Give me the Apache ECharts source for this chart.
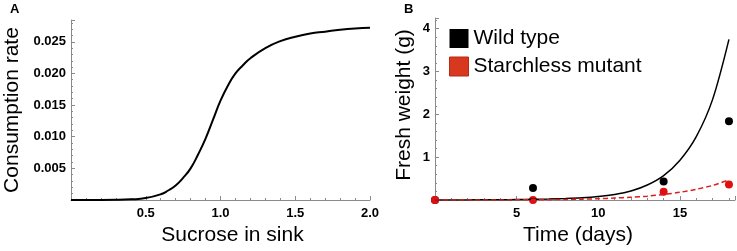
<!DOCTYPE html>
<html>
<head>
<meta charset="utf-8">
<script src="https://cdn.jsdelivr.net/npm/echarts@6.0.0/dist/echarts.min.js"></script>
<style>
  html, body { margin: 0; padding: 0; background: #fff; }
  #chart { width: 737px; height: 251px; }
</style>
</head>
<body>
<div id="chart"></div>
<script>
// panel A: consumption rate vs sucrose in sink
const sucrose = [0, 0.1, 0.2, 0.3, 0.4, 0.5, 0.6, 0.65, 0.7, 0.75, 0.8, 0.85, 0.9, 0.95, 1.0, 1.05, 1.1, 1.15, 1.2, 1.3, 1.4, 1.5, 1.6, 1.7, 1.8, 1.9, 2.0];
const rate = [0, 0, 0, 0.00002, 0.0001, 0.0003, 0.0009, 0.0015, 0.0023, 0.0035, 0.0050, 0.0072, 0.0097, 0.0127, 0.0157, 0.0181, 0.0200, 0.0213, 0.0224, 0.0240, 0.0251, 0.0258, 0.0263, 0.0266, 0.0269, 0.0271, 0.0272];

// panel B: fresh weight vs time
const days = [0, 1, 2, 3, 4, 5, 6, 7, 8, 9, 10, 11, 12, 13, 14, 15, 16, 17, 18];
const wildModel = [0, 0.001, 0.002, 0.004, 0.006, 0.01, 0.015, 0.022, 0.033, 0.05, 0.08, 0.13, 0.21, 0.35, 0.57, 0.93, 1.48, 2.35, 3.75];
const mutantModel = [0, 0.0005, 0.001, 0.0015, 0.002, 0.003, 0.005, 0.008, 0.012, 0.02, 0.03, 0.045, 0.065, 0.09, 0.13, 0.18, 0.25, 0.34, 0.47];
const obsDays = [0, 6, 14, 18];
const wildObs = [0, 0.28, 0.43, 1.84];
const mutantObs = [0, 0, 0.19, 0.36];

const pairs = (xs, ys) => xs.map((x, i) => [x, ys[i]]);

const axisGrey = '#8a8a8a';
const tickLabel = { color: '#000', fontWeight: 'bold', fontSize: 13, fontFamily: 'Liberation Sans' };
const titleFont = { color: '#000', fontSize: 21, fontFamily: 'Liberation Sans' };
const hideZero = v => (v === 0 ? '' : v);

const chart = echarts.init(document.getElementById('chart'));
chart.setOption({
  animation: false,
  textStyle: { fontFamily: 'Liberation Sans' },
  grid: [
    { left: 71, top: 20, width: 299, height: 182 },
    { left: 435, top: 18, width: 300, height: 187 }
  ],
  xAxis: [
    {
      gridIndex: 0, type: 'value', min: 0, max: 2, interval: 0.5,
      name: 'Sucrose in sink', nameLocation: 'middle', nameGap: 25,
      nameTextStyle: Object.assign({ padding: [0, 0, 0, 24] }, titleFont),
      axisLine: { lineStyle: { color: axisGrey } },
      axisTick: { inside: true, length: 4, lineStyle: { color: axisGrey } },
      minorTick: { show: true, splitNumber: 5, length: 2, lineStyle: { color: axisGrey } },
      splitLine: { show: false },
      axisLabel: Object.assign({ margin: 7, formatter: v => (v === 0 ? '' : v.toFixed(1)) }, tickLabel)
    },
    {
      gridIndex: 1, type: 'value', min: 0, max: 18.37, interval: 5,
      name: 'Time (days)', nameLocation: 'middle', nameGap: 25,
      nameTextStyle: Object.assign({ padding: [0, 14, 0, 0] }, titleFont),
      axisLine: { lineStyle: { color: axisGrey } },
      axisTick: { inside: true, length: 4, lineStyle: { color: axisGrey } },
      minorTick: { show: true, splitNumber: 5, length: 2, lineStyle: { color: axisGrey } },
      splitLine: { show: false },
      axisLabel: Object.assign({ margin: 7, showMaxLabel: false, formatter: hideZero }, tickLabel)
    }
  ],
  yAxis: [
    {
      gridIndex: 0, type: 'value', min: 0, max: 0.02844, interval: 0.005,
      name: 'Consumption rate', nameLocation: 'middle', nameGap: 48, nameTextStyle: titleFont,
      axisLine: { show: true, lineStyle: { color: axisGrey } },
      axisTick: { show: true, inside: true, length: 4, lineStyle: { color: axisGrey } },
      minorTick: { show: true, splitNumber: 5, length: 2, lineStyle: { color: axisGrey } },
      splitLine: { show: false },
      axisLabel: Object.assign({ margin: 5, showMaxLabel: false, formatter: v => (v === 0 ? '' : v.toFixed(3)) }, tickLabel)
    },
    {
      gridIndex: 1, type: 'value', min: 0, max: 4.25, interval: 1,
      name: 'Fresh weight (g)', nameLocation: 'middle', nameGap: 20,
      nameTextStyle: Object.assign({ padding: [0, 0, 0, 8] }, titleFont),
      axisLine: { show: true, lineStyle: { color: axisGrey } },
      axisTick: { show: true, inside: true, length: 4, lineStyle: { color: axisGrey } },
      minorTick: { show: true, splitNumber: 5, length: 2, lineStyle: { color: axisGrey } },
      splitLine: { show: false },
      axisLabel: Object.assign({ margin: 5, showMaxLabel: false, formatter: hideZero }, tickLabel)
    }
  ],
  legend: {
    left: 444, top: 23, orient: 'vertical', icon: 'rect',
    itemWidth: 19, itemHeight: 19, itemGap: 7,
    textStyle: { fontSize: 21, color: '#000', fontFamily: 'Liberation Sans' },
    data: [
      { name: 'Wild type', itemStyle: { color: '#000' }, lineStyle: { width: 0 } },
      { name: 'Starchless mutant', itemStyle: { color: '#d8381e', borderColor: '#b82a14', borderWidth: 1 }, lineStyle: { width: 0 } }
    ]
  },
  graphic: [
    { type: 'text', left: 10, top: 3, style: { text: 'A', font: 'bold 13px Liberation Sans', fill: '#000' } },
    { type: 'text', left: 404, top: 3, style: { text: 'B', font: 'bold 13px Liberation Sans', fill: '#000' } }
  ],
  series: [
    {
      type: 'line', xAxisIndex: 0, yAxisIndex: 0, data: pairs(sucrose, rate),
      smooth: true, showSymbol: false, lineStyle: { color: '#000', width: 2 }
    },
    {
      name: 'Wild type', type: 'line', xAxisIndex: 1, yAxisIndex: 1, data: pairs(days, wildModel),
      smooth: 0.3, showSymbol: false, itemStyle: { color: '#000' }, lineStyle: { color: '#000', width: 1.5 }
    },
    {
      name: 'Starchless mutant', type: 'line', xAxisIndex: 1, yAxisIndex: 1, data: pairs(days, mutantModel),
      smooth: 0.3, showSymbol: false, itemStyle: { color: '#d8381e' },
      lineStyle: { color: '#dd1c1c', width: 1.5, type: [5, 3] }
    },
    {
      name: 'Wild type', type: 'scatter', xAxisIndex: 1, yAxisIndex: 1, data: pairs(obsDays, wildObs),
      symbolSize: 8, itemStyle: { color: '#000', opacity: 1 }
    },
    {
      name: 'Starchless mutant', type: 'scatter', xAxisIndex: 1, yAxisIndex: 1, data: pairs(obsDays, mutantObs),
      symbolSize: 8, itemStyle: { color: '#e01010', opacity: 1 }
    }
  ]
});
</script>
</body>
</html>
